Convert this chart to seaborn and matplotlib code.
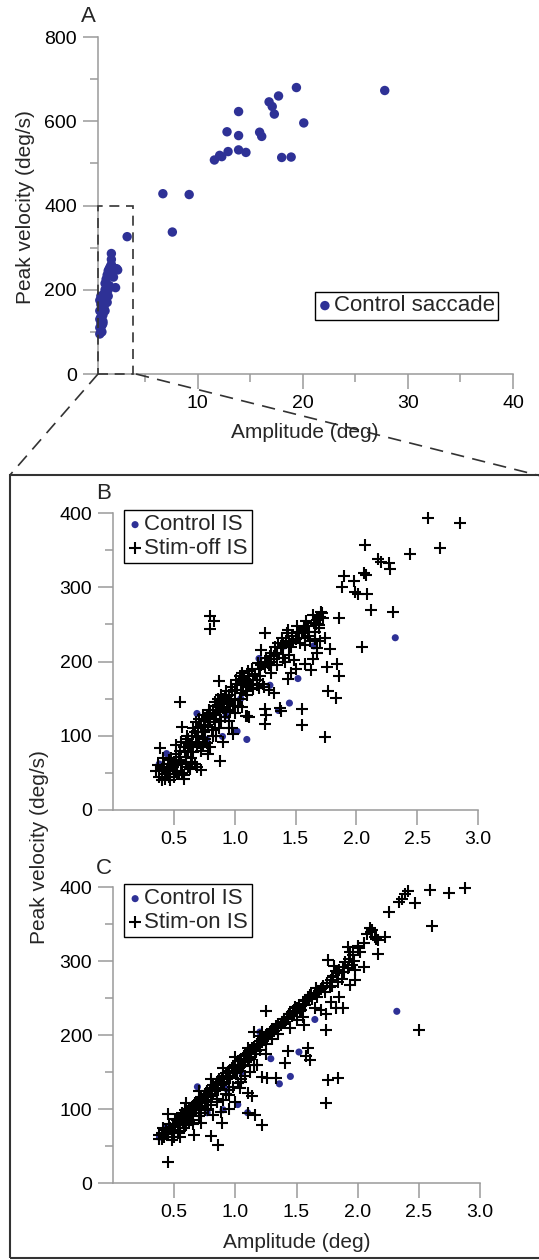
import numpy as np
import pandas as pd
import matplotlib
matplotlib.use("Agg")
import matplotlib.pyplot as plt
import seaborn as sns
from matplotlib.lines import Line2D
from matplotlib.patches import Rectangle
from matplotlib.ticker import MultipleLocator

# --- data (amplitude deg, peak velocity deg/s) ---
saccade_amp = [19.4, 27.8, 17.7, 16.8, 17.1, 17.3, 13.9, 20.1, 12.8, 13.9, 15.9, 16.1,
               12.9, 13.9, 14.6, 12.1, 11.6, 12.3, 18.0, 18.9, 6.7, 9.2, 7.6, 3.3,
               0.7, 0.7, 0.8, 0.8, 0.9, 0.9, 1.0, 0.7, 0.8, 1.0, 1.1, 1.2, 1.2, 1.3,
               1.4, 1.5, 1.6, 1.7, 1.8, 1.8, 1.8, 2.3, 2.4, 2.2, 1.5, 1.3, 0.7, 0.8,
               0.7, 0.9, 1.0, 1.1, 1.0, 0.9, 1.2, 1.4, 1.5, 1.0, 1.6, 2.0, 1.9]
saccade_vel = [680, 673, 660, 646, 635, 617, 623, 596, 575, 566, 574, 564,
               528, 532, 526, 519, 508, 516, 514, 515, 428, 426, 337, 326,
               95, 110, 120, 135, 145, 160, 170, 175, 185, 185, 190, 200, 215, 225,
               235, 245, 250, 255, 260, 272, 286, 250, 247, 205, 200, 180, 150, 165,
               130, 115, 140, 160, 125, 100, 150, 170, 185, 120, 210, 230, 240]

ctrl_is_amp = [2.32, 1.52, 1.45, 1.36, 1.20, 1.29, 0.69, 0.90, 1.02, 1.10, 0.77,
               1.65, 1.41, 0.38, 0.44, 0.93, 1.05]
ctrl_is_vel = [232, 177, 144, 134, 204, 168, 130, 99, 106, 95, 95,
               221, 221, 62, 76, 127, 150]

stim_off_pts = [
    (2.59, 393), (2.85, 387), (2.69, 353), (2.44, 345), (2.07, 357), (2.18, 338), (2.20, 334),
    (2.27, 332), (2.28, 325), (2.06, 319), (2.08, 316), (1.90, 315), (1.98, 309), (1.88, 301),
    (1.99, 294), (2.01, 291), (2.09, 291), (2.12, 270), (2.30, 266), (1.86, 258), (2.05, 220),
    (1.71, 266), (1.70, 260), (1.68, 256), (1.65, 252), (1.69, 249), (1.74, 231), (1.78, 217),
    (1.64, 204), (1.63, 188), (1.76, 192), (1.84, 197), (1.86, 181), (1.77, 160), (1.83, 151),
    (1.74, 98), (1.55, 136), (1.55, 115), (1.44, 177), (1.32, 157), (1.25, 136), (1.26, 128),
    (1.25, 116), (1.37, 137), (1.38, 133), (1.10, 127), (1.12, 125), (1.25, 238), (0.80, 261),
    (0.83, 255), (0.80, 244), (0.55, 145), (0.87, 174), (0.88, 66),
    (1.32, 204), (1.40, 220), (1.43, 238), (1.48, 227), (1.53, 238), (1.57, 243), (1.60, 234),
    (1.45, 209), (1.41, 200), (1.49, 202), (1.62, 228), (1.66, 240), (1.58, 222), (1.35, 210),
    (1.30, 212), (1.28, 195), (1.22, 215), (1.25, 200),
    (1.05, 168), (1.10, 165), (1.15, 163), (1.20, 164), (1.24, 166), (1.28, 162), (1.18, 175),
    (1.08, 172),
    (0.39, 83), (0.57, 112), (0.69, 86), (0.74, 88), (0.69, 58), (0.58, 47), (0.58, 42),
    (0.72, 54), (0.90, 92), (0.99, 103), (1.06, 139), (1.09, 126), (1.05, 157), (0.98, 110),
    (0.95, 120), (0.85, 100), (0.78, 75), (0.62, 58),
    (0.35, 52), (0.38, 45), (0.40, 40), (0.42, 58), (0.43, 48), (0.45, 62), (0.47, 55),
    (0.48, 70), (0.50, 65), (0.50, 45), (0.52, 75), (0.53, 60), (0.55, 80), (0.55, 68),
    (0.57, 50), (0.58, 85), (0.60, 90), (0.60, 72), (0.62, 95), (0.62, 80), (0.63, 55),
    (0.65, 100), (0.65, 85), (0.67, 105), (0.67, 62), (0.68, 92), (0.70, 110), (0.70, 98),
    (0.72, 115), (0.72, 80), (0.75, 120), (0.75, 105), (0.77, 125), (0.77, 90), (0.78, 112),
    (0.80, 130), (0.80, 118), (0.82, 135), (0.82, 100), (0.83, 122), (0.85, 140), (0.85, 128),
    (0.87, 145), (0.87, 110), (0.88, 132), (0.90, 150), (0.90, 138), (0.92, 152), (0.92, 125),
    (0.94, 145), (0.95, 155), (0.96, 135), (0.98, 160), (1.00, 162), (1.00, 150), (1.02, 170),
    (1.03, 140), (1.05, 175), (1.07, 168), (1.08, 178), (1.10, 172), (1.10, 155),
    (1.12, 180), (1.15, 175), (1.18, 168), (1.20, 190), (1.22, 195), (1.23, 170),
    (1.25, 192), (1.27, 198), (1.30, 200), (1.30, 185), (1.32, 208), (1.35, 212),
    (1.35, 195), (1.38, 218), (1.40, 222), (1.40, 205), (1.42, 228), (1.45, 225), (1.47, 235),
    (1.50, 230), (1.52, 240), (1.55, 238), (1.57, 245), (1.58, 232), (1.60, 248), (1.67, 250),
    (1.72, 265), (1.68, 218), (1.70, 228),
    (0.37, 60), (0.40, 55), (0.41, 70), (0.44, 52), (0.46, 45), (0.46, 68), (0.49, 58),
    (0.51, 52), (0.52, 88), (0.54, 72), (0.56, 62), (0.56, 92), (0.59, 78), (0.60, 65),
    (0.61, 100), (0.63, 88), (0.64, 70), (0.66, 110), (0.66, 78), (0.68, 118), (0.69, 100),
    (0.71, 122), (0.71, 90), (0.73, 105), (0.74, 128), (0.76, 112), (0.76, 95), (0.79, 135),
    (0.79, 122), (0.81, 108), (0.84, 145), (0.84, 118), (0.86, 150), (0.86, 135), (0.89, 155),
    (0.89, 120), (0.91, 143), (0.93, 160), (0.93, 132), (0.97, 165), (0.97, 148), (0.99, 140),
    (1.01, 175), (1.04, 180), (1.04, 150), (1.06, 185), (1.09, 160), (1.11, 187), (1.13, 170),
    (1.14, 190), (1.17, 183), (1.19, 198), (1.21, 180), (1.26, 205), (1.29, 207), (1.33, 220),
    (1.36, 225), (1.39, 232), (1.44, 243), (1.46, 220), (1.51, 248), (1.54, 225), (1.59, 255),
    (1.61, 240), (1.64, 262), (1.66, 230), (1.69, 245), (1.73, 258), (1.68, 212), (1.58, 196),
    (1.50, 190), (1.46, 185), (1.00, 130), (0.95, 110), (0.80, 85), (0.65, 65), (0.53, 48),
    (0.47, 40), (0.43, 42),
]

stim_on_pts = [
    (2.41, 395), (2.39, 391), (2.36, 384), (2.34, 380), (2.59, 396), (2.75, 392), (2.88, 398),
    (2.47, 378), (2.26, 366), (2.61, 347), (2.10, 344), (2.11, 339), (2.14, 333), (2.22, 332),
    (2.17, 310), (2.17, 328), (1.92, 319), (2.00, 317), (1.94, 312), (2.02, 312), (1.76, 302),
    (1.95, 294), (2.05, 292), (1.98, 288), (1.81, 293), (1.82, 287), (1.80, 279), (1.87, 276),
    (1.98, 274), (1.94, 267), (1.77, 265), (1.66, 263), (1.85, 252), (1.59, 252), (1.61, 254),
    (1.57, 247), (1.78, 245), (1.74, 229), (1.70, 234), (1.82, 236), (1.88, 236), (1.65, 236),
    (1.74, 207), (1.25, 233), (2.50, 207), (1.44, 229), (1.49, 238), (1.54, 234), (1.41, 218),
    (1.56, 213), (1.15, 204), (1.22, 204), (1.43, 178), (1.41, 162), (1.59, 182), (1.58, 171),
    (1.61, 166), (1.76, 139), (1.84, 142), (1.74, 108), (1.26, 142), (1.33, 142), (1.22, 143),
    (1.10, 121), (1.14, 117), (1.16, 92), (1.22, 79), (1.10, 95), (1.04, 128), (0.95, 119),
    (0.89, 81), (0.80, 63), (0.86, 52), (0.66, 65), (0.72, 81), (0.45, 29), (0.45, 93),
    (0.38, 65),
    (0.38, 60), (0.40, 68), (0.42, 62), (0.43, 72), (0.45, 66), (0.47, 75), (0.48, 70),
    (0.50, 80), (0.50, 72), (0.52, 85), (0.53, 78), (0.55, 88), (0.55, 80), (0.57, 92),
    (0.58, 85), (0.60, 96), (0.60, 88), (0.62, 100), (0.63, 92), (0.65, 104), (0.65, 95),
    (0.67, 108), (0.68, 100), (0.70, 112), (0.70, 104), (0.72, 116), (0.73, 108), (0.75, 120),
    (0.75, 112), (0.77, 124), (0.78, 116), (0.80, 128), (0.80, 120), (0.82, 132), (0.83, 124),
    (0.85, 136), (0.85, 128), (0.87, 140), (0.88, 132), (0.90, 145), (0.90, 136), (0.92, 148),
    (0.93, 140), (0.95, 152), (0.95, 144), (0.97, 156), (0.98, 148), (1.00, 160), (1.00, 152),
    (1.02, 165), (1.03, 156), (1.05, 168), (1.05, 160), (1.07, 172), (1.08, 164), (1.10, 176),
    (1.10, 168), (1.12, 180), (1.13, 170), (1.15, 184), (1.16, 174), (1.18, 188), (1.20, 192),
    (1.20, 180), (1.23, 196), (1.25, 200), (1.25, 188), (1.28, 204), (1.30, 208), (1.30, 195),
    (1.33, 212), (1.35, 215), (1.35, 202), (1.38, 218), (1.40, 222), (1.42, 225), (1.45, 228),
    (1.47, 232), (1.50, 236), (1.52, 240), (1.55, 242), (1.58, 246), (1.60, 250), (1.62, 254),
    (1.65, 257), (1.68, 260), (1.70, 262), (1.72, 266), (1.75, 270), (1.78, 274), (1.80, 280),
    (1.83, 284), (1.85, 288), (1.88, 292), (1.90, 298), (1.93, 303), (1.96, 308), (2.00, 320),
    (2.05, 325), (2.08, 336), (2.12, 342), (2.15, 330),
    (0.92, 120), (0.98, 130), (1.02, 135), (1.08, 145), (1.12, 150), (1.18, 160), (0.80, 105),
    (0.85, 110), (0.70, 90), (0.60, 78), (0.55, 70), (0.50, 62), (0.62, 82), (0.75, 98),
    (1.45, 210), (1.50, 220), (1.55, 225), (0.88, 96), (0.95, 100), (1.00, 110), (0.82, 92),
    (0.40, 60), (0.41, 74), (0.44, 68), (0.46, 80), (0.49, 76), (0.51, 86), (0.54, 82),
    (0.56, 94), (0.57, 84), (0.59, 98), (0.61, 90), (0.64, 102), (0.66, 98), (0.69, 110),
    (0.71, 102), (0.74, 118), (0.76, 110), (0.79, 126), (0.81, 118), (0.84, 134), (0.86, 126),
    (0.89, 142), (0.91, 134), (0.94, 150), (0.96, 142), (0.99, 158), (1.01, 150), (1.04, 166),
    (1.06, 158), (1.09, 174), (1.11, 166), (1.14, 182), (1.17, 178), (1.19, 186), (1.22, 190),
    (1.24, 196), (1.27, 198), (1.29, 202), (1.32, 206), (1.34, 210), (1.37, 214), (1.39, 216),
    (1.43, 222), (1.46, 226), (1.48, 230), (1.53, 232), (1.57, 240), (1.63, 248), (1.67, 252),
    (1.73, 258), (1.79, 266), (1.84, 272), (1.89, 285), (1.92, 290), (1.97, 300), (0.65, 85),
    (0.72, 95), (0.78, 100), (0.90, 112), (1.05, 140), (1.15, 160), (1.25, 175), (0.58, 75),
    (0.53, 68),
    (0.80, 140), (0.70, 125), (0.60, 108), (0.90, 155), (1.00, 170), (0.75, 100), (0.85, 114),
    (0.95, 126), (1.05, 137), (0.65, 80), (0.55, 62), (0.48, 58), (1.10, 182), (1.20, 198),
]

BLUE = "#2e3196"
GREY = "#9a9a9a"
DASH = "#333333"

sns.set_style("ticks")
plt.rcParams["font.family"] = ["Liberation Sans", "DejaVu Sans"]

W, H = 539, 1260


def fx(x):
    return x / W


def fy(y):
    return 1 - y / H


def style_axis(ax):
    sns.despine(ax=ax)
    for s in ["left", "bottom"]:
        ax.spines[s].set_color(GREY)
        ax.spines[s].set_linewidth(1.1)
    ax.tick_params(which="major", length=11, width=1.1, color=GREY, labelsize=14, pad=4,
                   labelcolor="black")
    ax.tick_params(which="minor", length=5.5, width=1.1, color=GREY)


fig = plt.figure(figsize=(W / 100, H / 100), dpi=100)

# ---------------- panel A ----------------
ax_a = fig.add_axes([fx(97.7), fy(374), (513 - 97.7) / W, 337 / H])
df_a = pd.DataFrame({"amp": saccade_amp, "vel": saccade_vel})
sns.scatterplot(data=df_a, x="amp", y="vel", ax=ax_a, color=BLUE, s=46,
                edgecolor="none", label="Control saccade", clip_on=False, zorder=4)
ax_a.set_xlim(0.5, 40)
ax_a.set_ylim(0, 800)
ax_a.xaxis.set_major_locator(MultipleLocator(10))
ax_a.xaxis.set_minor_locator(MultipleLocator(5))
ax_a.yaxis.set_major_locator(MultipleLocator(200))
ax_a.yaxis.set_minor_locator(MultipleLocator(100))
ax_a.set_xlabel("")
ax_a.set_ylabel("")
style_axis(ax_a)
leg = ax_a.legend(loc="upper left", bbox_to_anchor=(0.523, 0.243), fontsize=16,
                  frameon=True, fancybox=False, edgecolor="black", framealpha=1,
                  handletextpad=0.1, handlelength=0.6, borderpad=0.15, borderaxespad=0)
leg.get_frame().set_linewidth(1.0)

# zoom box on panel A
ax_a.add_patch(Rectangle((0.55, 0), 3.35, 400, fill=False, edgecolor=DASH, lw=1.2,
                         linestyle=(0, (6, 4)), clip_on=False, zorder=5))


def panel_is(ax, pts, label):
    df_c = pd.DataFrame({"amp": ctrl_is_amp, "vel": ctrl_is_vel})
    df_s = pd.DataFrame(pts, columns=["amp", "vel"])
    sns.scatterplot(data=df_c, x="amp", y="vel", ax=ax, color=BLUE, s=26,
                    edgecolor="none", label="Control IS", zorder=3)
    sns.scatterplot(data=df_s, x="amp", y="vel", ax=ax, color="black", marker="+",
                    s=80, linewidth=1.5, label=label, clip_on=False, zorder=4)
    ax.set_xlim(0, 3.0)
    ax.set_ylim(0, 400)
    ax.set_xticks([0.5, 1.0, 1.5, 2.0, 2.5, 3.0])
    ax.set_xticklabels(["0.5", "1.0", "1.5", "2.0", "2.5", "3.0"])
    ax.yaxis.set_major_locator(MultipleLocator(100))
    ax.yaxis.set_minor_locator(MultipleLocator(50))
    ax.set_xlabel("")
    ax.set_ylabel("")
    style_axis(ax)
    lg = ax.legend(loc="upper left", bbox_to_anchor=(0.03, 1.01), fontsize=16,
                   frameon=True, fancybox=False, edgecolor="black", framealpha=1,
                   handletextpad=0.1, handlelength=0.6, borderpad=0.2,
                   labelspacing=0.1, borderaxespad=0)
    lg.get_frame().set_linewidth(1.0)


ax_b = fig.add_axes([fx(113), fy(810), (478 - 113) / W, 297 / H])
panel_is(ax_b, stim_off_pts, "Stim-off IS")

ax_c = fig.add_axes([fx(113), fy(1183), (480 - 113) / W, 296 / H])
panel_is(ax_c, stim_on_pts, "Stim-on IS")

# ---------------- figure decorations ----------------
fig.add_artist(Rectangle((fx(10), fy(1258)), (545 - 10) / W, (1258 - 475) / H,
                         transform=fig.transFigure, fill=False, edgecolor=DASH, lw=1.5))
fig.add_artist(Line2D([fx(98), fx(10)], [fy(374), fy(475)], transform=fig.transFigure,
                      color=DASH, lw=1.2, linestyle=(0, (8, 5))))
fig.add_artist(Line2D([fx(136), fx(545)], [fy(374), fy(477)], transform=fig.transFigure,
                      color=DASH, lw=1.2, linestyle=(0, (8, 5))))

fig.text(fx(88), fy(17), "A", ha="center", va="center", fontsize=16)
fig.text(fx(104), fy(494), "B", ha="center", va="center", fontsize=16)
fig.text(fx(104), fy(868), "C", ha="center", va="center", fontsize=16)
fig.text(fx(26), fy(207), "Peak velocity (deg/s)", rotation=90, ha="center", va="center",
         fontsize=15)
fig.text(fx(305), fy(433), "Amplitude (deg)", ha="center", va="center", fontsize=15)
fig.text(fx(40), fy(847), "Peak velocity (deg/s)", rotation=90, ha="center", va="center",
         fontsize=15)
fig.text(fx(297), fy(1243), "Amplitude (deg)", ha="center", va="center", fontsize=15)

fig.savefig("out.png", dpi=100)
